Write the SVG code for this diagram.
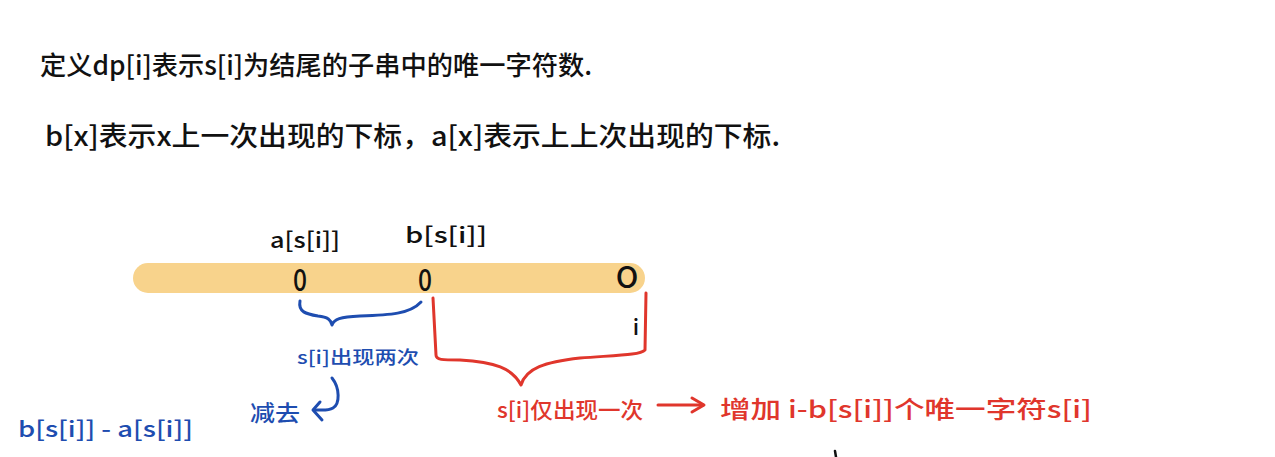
<svg xmlns="http://www.w3.org/2000/svg" width="1275" height="457" viewBox="0 0 1275 457">
<style>
text{font-family:"Noto Sans CJK SC","Noto Sans",sans-serif;font-weight:500;}
.k{fill:#111;}
.b{fill:#1e4db0;}
.r{fill:#e0362c;}
.sb{fill:none;stroke:#1e4db0;stroke-width:3;stroke-linecap:round;stroke-linejoin:round;}
.sr{fill:none;stroke:#e0362c;stroke-width:3;stroke-linecap:round;stroke-linejoin:round;}
</style>
<rect width="1275" height="457" fill="#ffffff"/>
<g id="title">
<text class="k" x="40" y="75" font-size="26" textLength="552" lengthAdjust="spacingAndGlyphs">定义dp[i]表示s[i]为结尾的子串中的唯一字符数.</text>
<text class="k" x="45" y="146" font-size="27" textLength="735" lengthAdjust="spacingAndGlyphs">b[x]表示x上一次出现的下标，a[x]表示上上次出现的下标.</text>
</g>
<g id="bar">
<rect x="133" y="263" width="512" height="30" rx="15" fill="#f8d38c"/>
<text class="k" x="300" y="291" font-size="31" text-anchor="middle" textLength="14" lengthAdjust="spacingAndGlyphs">0</text>
<text class="k" x="425" y="291" font-size="31" text-anchor="middle" textLength="14" lengthAdjust="spacingAndGlyphs">0</text>
<text class="k" x="627" y="288" font-size="30" text-anchor="middle">O</text>
<text class="k" x="636" y="335" font-size="22" text-anchor="middle">i</text>
</g>
<g id="label-a">
<text class="k" x="270" y="248" font-size="22" textLength="70" lengthAdjust="spacingAndGlyphs">a[s[i]]</text>
</g>
<g id="label-b">
<text class="k" x="405" y="243" font-size="22" textLength="82" lengthAdjust="spacingAndGlyphs">b[s[i]]</text>
</g>
<g id="twice">
<text class="b" x="297" y="364" font-size="18" textLength="122" lengthAdjust="spacingAndGlyphs">s[i]出现两次</text>
</g>
<g id="subtract">
<text class="b" x="250" y="421" font-size="22" textLength="50" lengthAdjust="spacingAndGlyphs">减去</text>
</g>
<g id="diff">
<text class="b" x="18" y="437" font-size="22" textLength="175" lengthAdjust="spacingAndGlyphs">b[s[i]] - a[s[i]]</text>
</g>
<g id="once">
<text class="r" x="497" y="418" font-size="22" textLength="146" lengthAdjust="spacingAndGlyphs">s[i]仅出现一次</text>
</g>
<g id="increase">
<text class="r" x="720" y="418" font-size="24" textLength="372" lengthAdjust="spacingAndGlyphs">增加 i-b[s[i]]个唯一字符s[i]</text>
</g>
<g id="connectors">
<path class="sb" d="M300 301 C298 312 306 314 318 316 C328 317 331 320 332 325 C334 319 340 317 360 316 C390 315 410 314 421 302"/>
<path class="sb" d="M332 378 C340 388 340 404 333 408 C328 411 322 410 316 410"/>
<path class="sb" d="M320 402 L313 410 L322 420"/>
<path class="sr" d="M433 298 L436 355 C436 360 442 360 460 360 C495 362 512 368 521 385 C526 368 545 362 580 358 C620 355 640 355 645 350 L646 293"/>
<path class="sr" d="M658 405 L703 405"/>
<path class="sr" d="M692 398 L704 405 L692 412"/>
<path d="M835 451 L836 457" stroke="#111" stroke-width="2.5" stroke-linecap="round"/>
</g>
</svg>
